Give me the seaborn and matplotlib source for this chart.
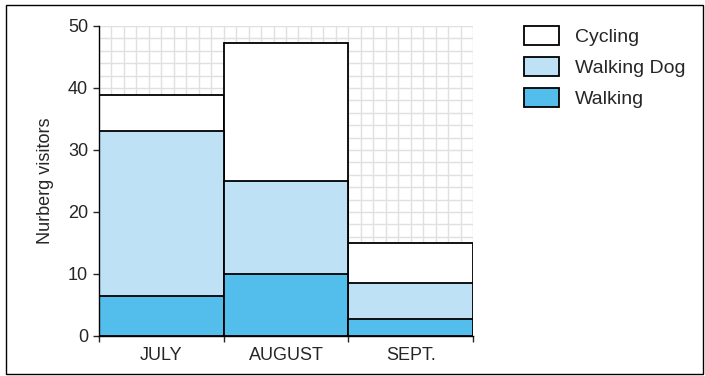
import numpy as np
import pandas as pd
import matplotlib
matplotlib.use("Agg")
import matplotlib.pyplot as plt
import seaborn as sns
from matplotlib.patches import Rectangle, Patch

months = ["JULY", "AUGUST", "SEPT."]
walking = [6.5, 10.0, 2.8]
walking_dog = [26.5, 15.0, 5.7]
cycling = [5.8, 22.3, 6.5]

c_walk = "#53bdeb"
c_dog = "#bee1f6"
c_cyc = "#ffffff"

df = pd.DataFrame({"month": months, "Walking": walking,
                   "Walking Dog": walking_dog, "Cycling": cycling})
# cumulative heights for stacking
df["top_walk"] = df["Walking"]
df["top_dog"] = df["Walking"] + df["Walking Dog"]
df["top_cyc"] = df["top_dog"] + df["Cycling"]

sns.set_style("white")
plt.rcParams["font.family"] = ["Liberation Sans", "DejaVu Sans"]

fig = plt.figure(figsize=(7.05, 3.76), dpi=100)
ax = fig.add_axes([99 / 705, 40 / 376, 374 / 705, 310 / 376])

# light square grid behind the bars
for x in np.arange(-0.5, 2.51, 0.1):
    ax.axvline(x, color="#e0e0e0", lw=1.0, zorder=0)
for y in np.arange(0, 50.1, 2):
    ax.axhline(y, color="#e0e0e0", lw=1.0, zorder=0)

for col, color in [("top_cyc", c_cyc), ("top_dog", c_dog), ("top_walk", c_walk)]:
    sns.barplot(data=df, x="month", y=col, color=color, width=1.0,
                edgecolor="black", linewidth=1.3, saturation=1, ax=ax, zorder=2)

ax.set_xlim(-0.5, 2.5)
ax.set_ylim(0, 50)
ax.set_xlabel("")
ax.set_ylabel("Nurberg visitors", fontsize=13, labelpad=10)

ax.set_yticks(range(0, 51, 10))
ax.tick_params(axis="y", labelsize=13, length=4.3, width=1, direction="out", left=True, pad=3.5)

ax.set_xticks([-0.5, 0.5, 1.5, 2.5])
ax.set_xticklabels([])
ax.set_xticks([0, 1, 2], minor=True)
ax.set_xticklabels(months, minor=True, fontsize=13)
ax.tick_params(axis="x", which="major", length=4.3, width=1, direction="out", bottom=True)
ax.tick_params(axis="x", which="minor", length=0, pad=8)

for s in ["top", "right"]:
    ax.spines[s].set_visible(False)
for s in ["left", "bottom"]:
    ax.spines[s].set_color("black")
    ax.spines[s].set_linewidth(1.0)
    ax.spines[s].set_zorder(3)

handles = [Patch(facecolor=c_cyc, edgecolor="black", lw=1.3, label="Cycling"),
           Patch(facecolor=c_dog, edgecolor="black", lw=1.3, label="Walking Dog"),
           Patch(facecolor=c_walk, edgecolor="black", lw=1.3, label="Walking")]
fig.legend(handles=handles, loc="upper left", bbox_to_anchor=(524 / 705, 1 - 26 / 376),
           frameon=False, fontsize=14, handlelength=1.8, handleheight=1.13,
           labelspacing=0.55, handletextpad=0.8, borderpad=0, borderaxespad=0)

# frame around the whole figure
fig.patches.append(Rectangle((6 / 705, 2 / 376), 697 / 705, 369 / 376, transform=fig.transFigure,
                             fill=False, edgecolor="black", lw=1.0))

fig.savefig("out.png", dpi=100)
